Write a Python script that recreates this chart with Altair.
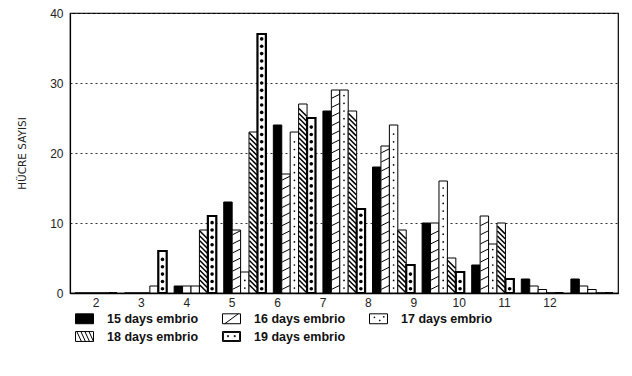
import altair as alt
import pandas as pd

categories = [2, 3, 4, 5, 6, 7, 8, 9, 10, 11, 12]
series_names = ["15 days embrio", "16 days embrio", "17 days embrio",
                "18 days embrio", "19 days embrio"]
d15 = [0, 0, 1, 13, 24, 26, 18, 10, 4, 2, 2]
d16 = [0, 0, 1, 9, 17, 29, 21, 10, 11, 1, 1]
d17 = [0, 0, 1, 3, 23, 29, 24, 16, 7, 0.5, 0.5]
d18 = [0, 1, 9, 23, 27, 26, 9, 5, 10, 0, 0]
d19 = [0, 6, 11, 37, 25, 12, 4, 3, 2, 0, 0]
y_ticks = [0, 10, 20, 30, 40]

rows = []
for name, vals in zip(series_names, [d15, d16, d17, d18, d19]):
    for c, v in zip(categories, vals):
        rows.append({"cat": c, "series": name, "value": v})
df = pd.DataFrame(rows)

RECT = "M-1,-0.55H1V0.55H-1Z"
legend_paths = [
    RECT,
    RECT + " M-0.75,0.55L0.75,-0.55",
    RECT + " M-0.5,-0.2h0.08v0.08h-0.08Z M0.1,0.15h0.08v0.08h-0.08Z M0.55,-0.25h0.08v0.08h-0.08Z",
    RECT + " M-0.85,-0.55L-0.35,0.55 M-0.4,-0.55L0.1,0.55 M0.05,-0.55L0.55,0.55 M0.5,-0.55L1,0.55",
    RECT + " M-0.9,-0.45H0.9V0.45H-0.9Z M-0.45,-0.1h0.12v0.12h-0.12Z M0.3,-0.1h0.12v0.12h-0.12Z",
]
legend_fills = ["black", "white", "white", "white", "white"]
legend_strokes = ["black", "black", "black", "black", "black"]

x_enc = alt.X("cat:O", title=None,
              scale=alt.Scale(paddingInner=0.15, paddingOuter=0.1),
              axis=alt.Axis(labelAngle=0, ticks=False, labelFontSize=12,
                            labelFont="Liberation Sans", labelColor="#222",
                            labelPadding=4, domainColor="black", domainWidth=1.5,
                            labelOffset=alt.ExprRef("-4.2*(datum.value-2)")))
xo_enc = alt.XOffset("series:N", scale=alt.Scale(domain=series_names, paddingInner=0))
y_enc = alt.Y("value:Q", title="HÜCRE SAYISI",
              scale=alt.Scale(domain=[0, 40], nice=False),
              axis=alt.Axis(values=y_ticks, grid=True, gridDash=[2, 3], gridColor="#333",
                            gridWidth=1, ticks=False, labelFontSize=12,
                            labelFont="Liberation Sans", labelColor="#222", labelPadding=7,
                            domainColor="black", domainWidth=1.2,
                            titleFontSize=10.5, titleFont="DejaVu Sans", titleFontWeight="normal",
                            titleColor="#222", titlePadding=22))

base = alt.Chart(df)

bars = base.mark_bar(stroke="black").encode(
    x=x_enc, xOffset=xo_enc, y=y_enc,
    fill=alt.condition(alt.datum.series == "15 days embrio", alt.value("black"), alt.value("white")),
    strokeWidth=alt.condition(alt.datum.series == "19 days embrio", alt.value(2.2), alt.value(1)),
)

def pattern(series, seq_expr, shape, size, filled, stroke_w):
    return base.transform_filter(alt.datum.series == series).transform_calculate(
        pos=seq_expr
    ).transform_flatten(["pos"]).mark_point(
        shape=shape, size=size, filled=filled, color="black",
        strokeWidth=stroke_w, opacity=1
    ).encode(x=x_enc, xOffset=xo_enc, y=alt.Y("pos:Q"))

p16 = pattern("16 days embrio", "sequence(0.8, datum.value - 0.3, 1.3)",
              "M-1,0.5L1,-0.5", 60, False, 1)
p17 = pattern("17 days embrio", "sequence(0.7, datum.value - 0.3, 1.1)",
              "circle", 3, True, 0)
p18 = pattern("18 days embrio", "sequence(0.6, datum.value - 0.55, 0.7)",
              "M-1,-1L1,1", 60, False, 1.5)
p19 = pattern("19 days embrio", "sequence(0.6, datum.value - 0.4, 1.05)",
              "circle", 13, True, 0)

leg = alt.Legend(title=None)
legend_layer = base.transform_filter("false").mark_point(
    filled=True, opacity=1, strokeWidth=1
).encode(
    x=x_enc, xOffset=xo_enc, y=alt.Y("value:Q"),
    shape=alt.Shape("series:N", scale=alt.Scale(domain=series_names, range=legend_paths),
                    legend=leg),
    fill=alt.Fill("series:N", scale=alt.Scale(domain=series_names, range=legend_fills),
                  legend=leg),
    stroke=alt.Stroke("series:N", scale=alt.Scale(domain=series_names, range=legend_strokes),
                      legend=leg),
)

chart = alt.layer(bars, p16, p17, p18, p19, legend_layer).properties(
    width=548, height=280,
    autosize=alt.AutoSizeParams(type="none"),
    padding={"left": 62, "top": 5, "right": 6, "bottom": 70},
).configure_view(
    stroke="black", strokeWidth=1.2
).configure_legend(
    orient="none", legendX=5, legendY=296, direction="horizontal", columns=3,
    symbolSize=324, symbolStrokeWidth=1,
    symbolOpacity=1, labelFontSize=12.5, labelFont="Liberation Sans",
    labelFontWeight="bold", labelColor="#111", labelOffset=13,
    columnPadding=21, rowPadding=1, padding=0, labelLimit=200,
)

chart.save("out.html", embed_options={"renderer": "svg", "actions": False})
